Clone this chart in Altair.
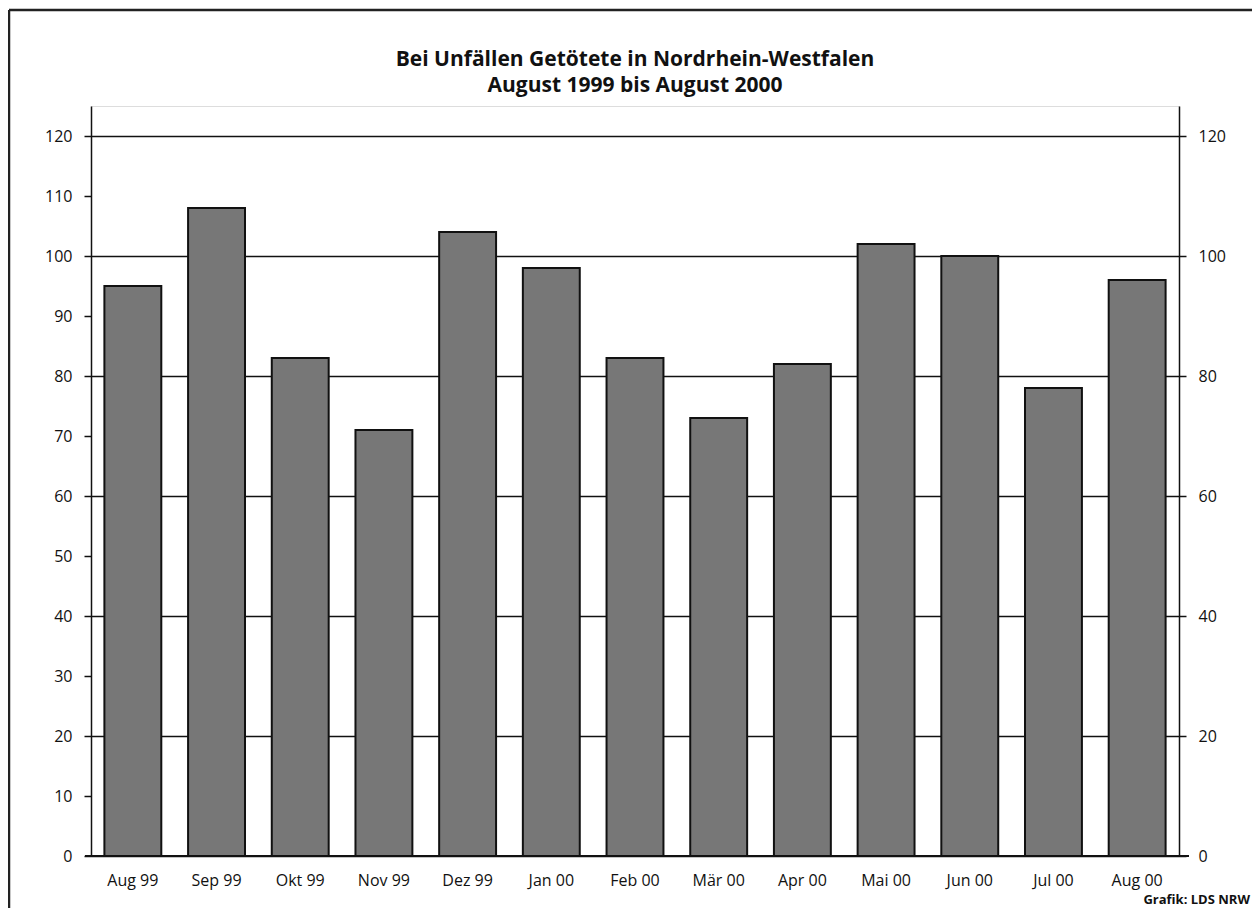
import altair as alt
import pandas as pd

months = ["Aug 99", "Sep 99", "Okt 99", "Nov 99", "Dez 99", "Jan 00", "Feb 00",
          "Mär 00", "Apr 00", "Mai 00", "Jun 00", "Jul 00", "Aug 00"]
deaths = [95, 108, 83, 71, 104, 98, 83, 73, 82, 102, 100, 78, 96]
left_ticks = [0, 10, 20, 30, 40, 50, 60, 70, 80, 90, 100, 110, 120]
right_ticks = [0, 20, 40, 60, 80, 100, 120]
title_lines = ["Bei Unfällen Getötete in Nordrhein-Westfalen",
               "August 1999 bis August 2000"]

df = pd.DataFrame({"Monat": months, "Getötete": deaths})

W, H = 1088, 750
PL, PT, PR, PB = 83, 98, 73, 52
FONT = "Open Sans"

xenc = alt.X("Monat:N", sort=None, title=None,
             scale=alt.Scale(paddingInner=0.32, paddingOuter=0.16),
             axis=alt.Axis(labelAngle=0, domain=False, ticks=False, labelPadding=16,
                           labelFontSize=16, labelFont=FONT, labelColor="#111"))

bars = alt.Chart(df).mark_bar(fill="#777777", stroke="#111", strokeWidth=2).encode(
    x=xenc,
    y=alt.Y("Getötete:Q", title=None,
            scale=alt.Scale(domain=[0, 125], nice=False),
            axis=alt.Axis(orient="left", values=left_ticks, grid=False, tickSize=7,
                          labelPadding=12, labelFontSize=16, labelFont=FONT,
                          labelColor="#111", domainColor="#111", tickColor="#111",
                          domainWidth=1.5, tickWidth=1.5))
)

right = alt.Chart(df).mark_bar(opacity=0).encode(
    x=xenc,
    y=alt.Y("Getötete:Q", title=None,
            scale=alt.Scale(domain=[0, 125], nice=False),
            axis=alt.Axis(orient="right", values=right_ticks, grid=True, gridColor="#111",
                          gridWidth=1.5, gridOpacity=1, tickSize=7, labelPadding=12,
                          labelFontSize=16, labelFont=FONT, labelColor="#111",
                          domainColor="#111", tickColor="#111", domainWidth=1.5,
                          tickWidth=1.5))
)

one = alt.Data(values=[{}])
baseline = alt.Chart(one).mark_rule(color="#111", strokeWidth=1.8).encode(
    x=alt.value(-6), x2=alt.value(W + 10), y=alt.value(H))
frame_top = alt.Chart(one).mark_rule(color="#222", strokeWidth=2.5).encode(
    x=alt.value(-82), x2=alt.value(W + PR), y=alt.value(-96))
frame_left = alt.Chart(one).mark_rule(color="#222", strokeWidth=2.5).encode(
    x=alt.value(-82), y=alt.value(-96), y2=alt.value(H + PB))
credit = alt.Chart(one).mark_text(align="right", baseline="middle", fontSize=13,
                                  fontWeight="bold", font=FONT, color="#111").encode(
    x=alt.value(W + PR - 2), y=alt.value(H + 44), text=alt.value("Grafik: LDS NRW"))
title1 = alt.Chart(one).mark_text(align="center", baseline="middle", fontSize=21,
                                  fontWeight="bold", font=FONT, color="#111").encode(
    x=alt.value(W / 2), y=alt.value(-46), text=alt.value(title_lines[0]))
title2 = alt.Chart(one).mark_text(align="center", baseline="middle", fontSize=21,
                                  fontWeight="bold", font=FONT, color="#111").encode(
    x=alt.value(W / 2), y=alt.value(-20), text=alt.value(title_lines[1]))

chart = alt.layer(bars, right, baseline, frame_top, frame_left, credit, title1,
                  title2).resolve_scale(
    y="independent"
).properties(
    width=W, height=H,
    autosize=alt.AutoSizeParams(type="none"),
    padding={"left": PL, "top": PT, "right": PR, "bottom": PB},
).configure_view(stroke=None).configure(background="white")

chart.save("out.html", embed_options={"renderer": "svg", "actions": False})
